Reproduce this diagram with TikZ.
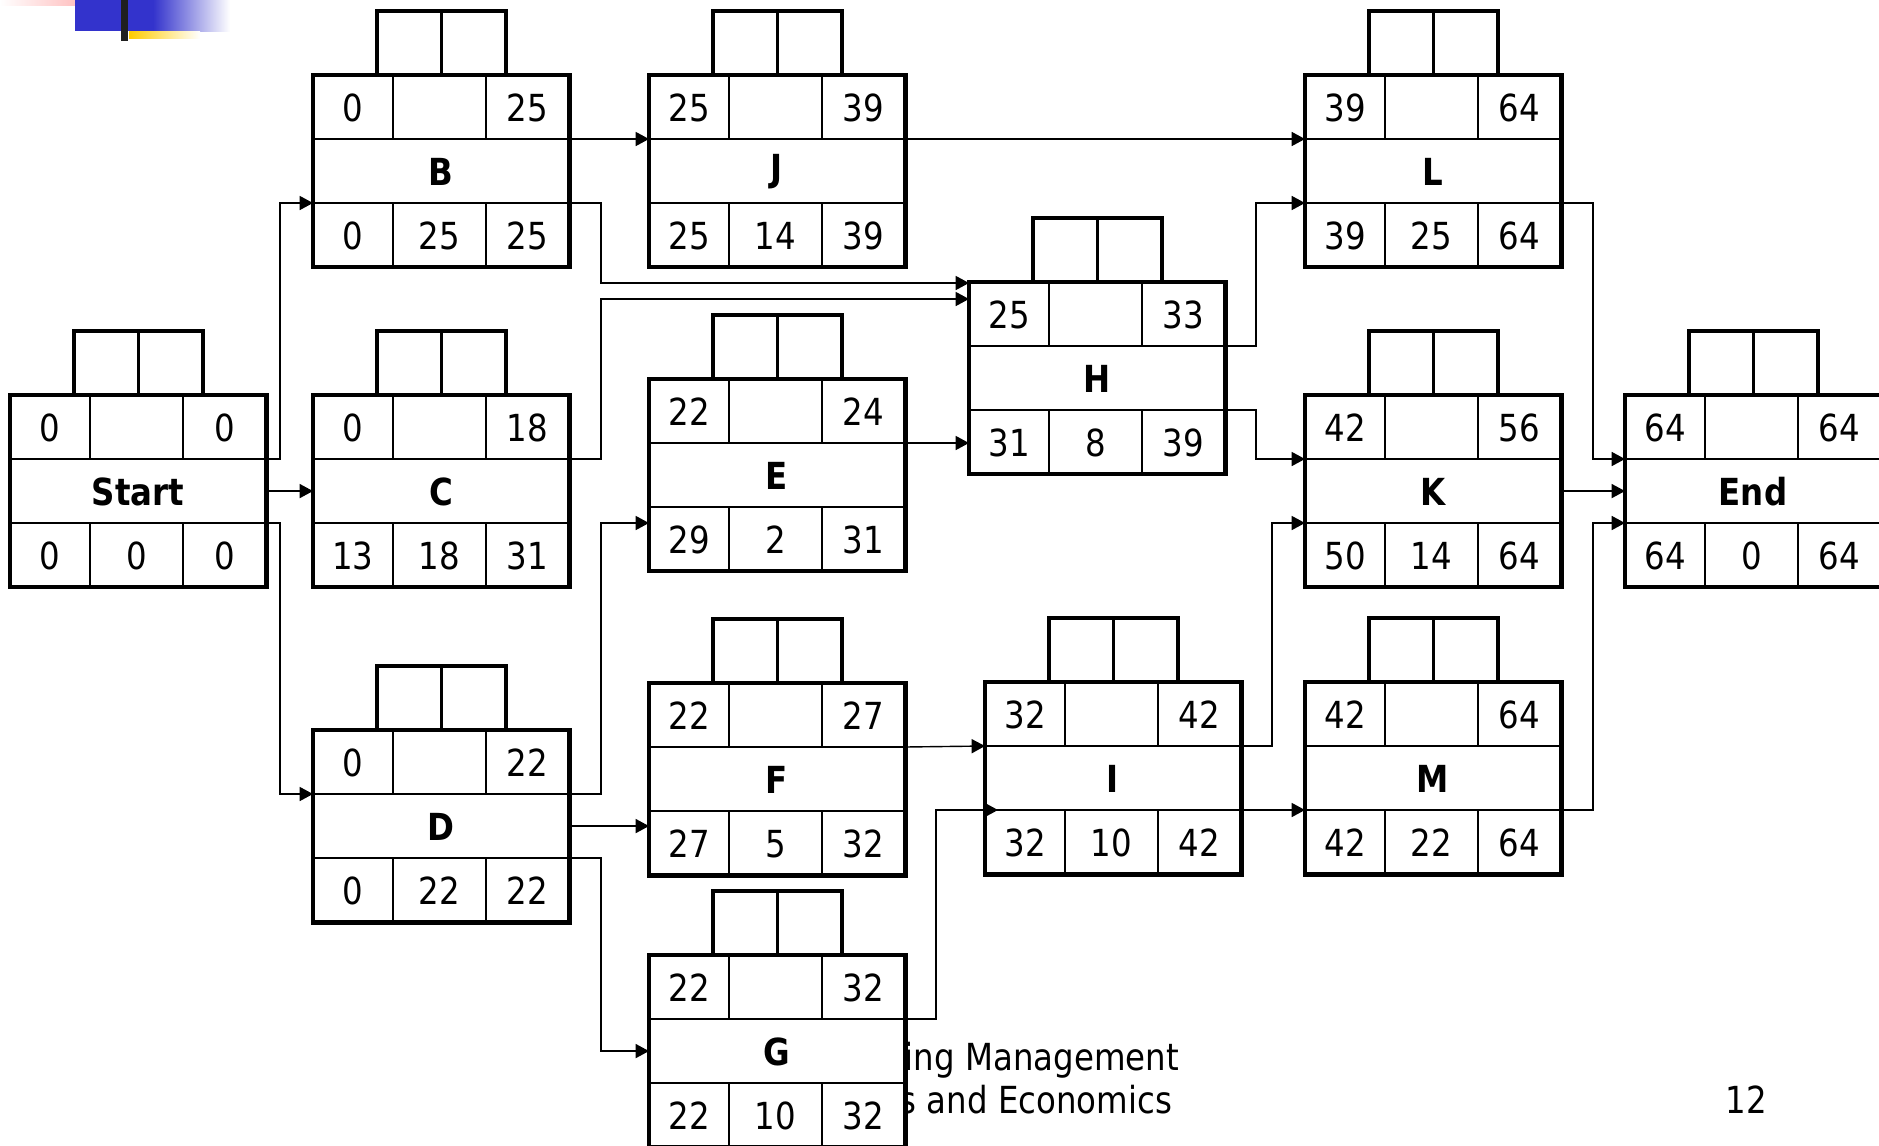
\documentclass[tikz,border=0pt]{standalone}
\usepackage{fontspec}
\setmainfont{DejaVu Sans}[FakeStretch=0.87]
\usepackage{tikz}
\usetikzlibrary{arrows.meta, calc}

\definecolor{logoblue}{RGB}{51,51,204}
\definecolor{logopink}{RGB}{255,170,170}
\definecolor{logoyellow}{RGB}{255,204,0}

\tikzset{
  actframe/.style={draw, line width=1.35pt, fill=white, minimum width=2.56cm, minimum height=1.92cm, inner sep=0pt, outer sep=0pt},
  topframe/.style={line width=1.35pt},
  cellline/.style={line width=0.6pt},
  num/.style={font=\fontsize{10.6}{12}\selectfont, inner sep=0pt},
  lbl/.style={font=\fontsize{10.6}{12}\selectfont\bfseries, inner sep=0pt},
  conn/.style={line width=0.4pt, -{Triangle[length=3.8pt, width=4pt]}},
  foot/.style={font=\fontsize{10.6}{12}\selectfont, inner sep=0pt}
}

% activity box: name, top left, label, ES, EF, LS, duration, LF
\newcommand{\actbox}[8]{%
  \begin{scope}[shift={#2}]
    \draw[topframe] (64,0) rectangle (193,-64);
    \draw[cellline] (128.5,0) -- (128.5,-64);
    \node[actframe, anchor=north west] (#1) at (0,0) {};
    \draw[cellline] (0,64) -- (256,64) (0,128) -- (256,128)
      (80,0) -- (80,64) (173,0) -- (173,64) (80,128) -- (80,192) (173,128) -- (173,192);
    \node[num] (#1-es) at (40,33) {#4}; \node[num] (#1-ef) at (214.5,33) {#5};
    \node[lbl] (#1-t) at (128,97) {#3};
    \node[num] (#1-ls) at (40,161) {#6}; \node[num] (#1-d) at (126.5,161) {#7}; \node[num] (#1-lf) at (214.5,161) {#8};
    \coordinate (#1-w1) at (0,64); \coordinate (#1-w2) at (0,128);
    \coordinate (#1-e1) at (256,64); \coordinate (#1-e2) at (256,128);
  \end{scope}}

\begin{document}
\begin{tikzpicture}[x=0.01cm, y=-0.01cm]
  \useasboundingbox (0,0) rectangle (1879,1145);

  % Logo
  \shade[left color=white, right color=logopink] (0,0) rectangle (106,5);
  \fill[logoblue] (75,0) rectangle (153,31);
  \shade[left color=logoblue, right color=white] (153,0) rectangle (230,31);
  \shade[left color=logoyellow, right color=white] (129,31) rectangle (200,38);
  \fill[black!88] (121,0) rectangle (128,41);

  % Footer
  \node[foot, anchor=west] (foot1) at (904,1060) {ing Management};
  \node[foot, anchor=west] (foot2) at (899,1100) {s and Economics};
  \node[foot] (page) at (1746,1100) {12};

  % Activities
  \actbox{Start}{(10,395)}{Start}{0}{0}{0}{0}{0}
  \actbox{B}{(313,75)}{B}{0}{25}{0}{25}{25}
  \actbox{C}{(313,395)}{C}{0}{18}{13}{18}{31}
  \actbox{D}{(313,730)}{D}{0}{22}{0}{22}{22}
  \actbox{J}{(649,75)}{J}{25}{39}{25}{14}{39}
  \actbox{E}{(649,379)}{E}{22}{24}{29}{2}{31}
  \actbox{F}{(649,683)}{F}{22}{27}{27}{5}{32}
  \actbox{G}{(649,955)}{G}{22}{32}{22}{10}{32}
  \actbox{H}{(969,282)}{H}{25}{33}{31}{8}{39}
  \actbox{I}{(985,682)}{I}{32}{42}{32}{10}{42}
  \actbox{L}{(1305,75)}{L}{39}{64}{39}{25}{64}
  \actbox{K}{(1305,395)}{K}{42}{56}{50}{14}{64}
  \actbox{M}{(1305,682)}{M}{42}{64}{42}{22}{64}
  \actbox{End}{(1625,395)}{End}{64}{64}{64}{0}{64}

  % Links
  \draw[conn] (Start-e1) -- ++(14,0) |- (B-w2);
  \draw[conn] (Start.east) -- (C.west);
  \draw[conn] (Start-e2) -- ++(14,0) |- (D-w1);
  \draw[conn] (B-e1) -- (J-w1);
  \draw[conn] (B-e2) -- ++(32,0) |- ($(H.north west)+(0,1)$);
  \draw[conn] (C-e1) -- ++(32,0) |- ($(H.north west)+(0,17)$);
  \draw[conn] (D-e1) -- ++(32,0) |- ($(E-w2)+(0,16)$);
  \draw[conn] (D.east) -- (D.east -| F.west);
  \draw[conn] (D-e2) -- ++(32,0) |- (G.west);
  \draw[conn] (J-e1) -- (L-w1);
  \draw[conn] (E-e1) -- (E-e1 -| H.west);
  \draw[conn] (H-e1) -- ++(31,0) |- (L-w2);
  \draw[conn] (H-e2) -- ++(31,0) |- (K-w1);
  \draw[conn] (F-e1) -- (I-w1);
  \draw[conn] (G-e1) -- ++(31,0) |- ($(I-w2)+(13,0)$);
  \draw[conn] (I-e1) -- ++(31,0) |- (K-w2);
  \draw[conn] (I-e2) -- (M-w2);
  \draw[conn] (L-e2) -- ++(32,0) |- (End-w1);
  \draw[conn] (K.east) -- (End.west);
  \draw[conn] (M-e2) -- ++(32,0) |- (End-w2);
\end{tikzpicture}
\end{document}
